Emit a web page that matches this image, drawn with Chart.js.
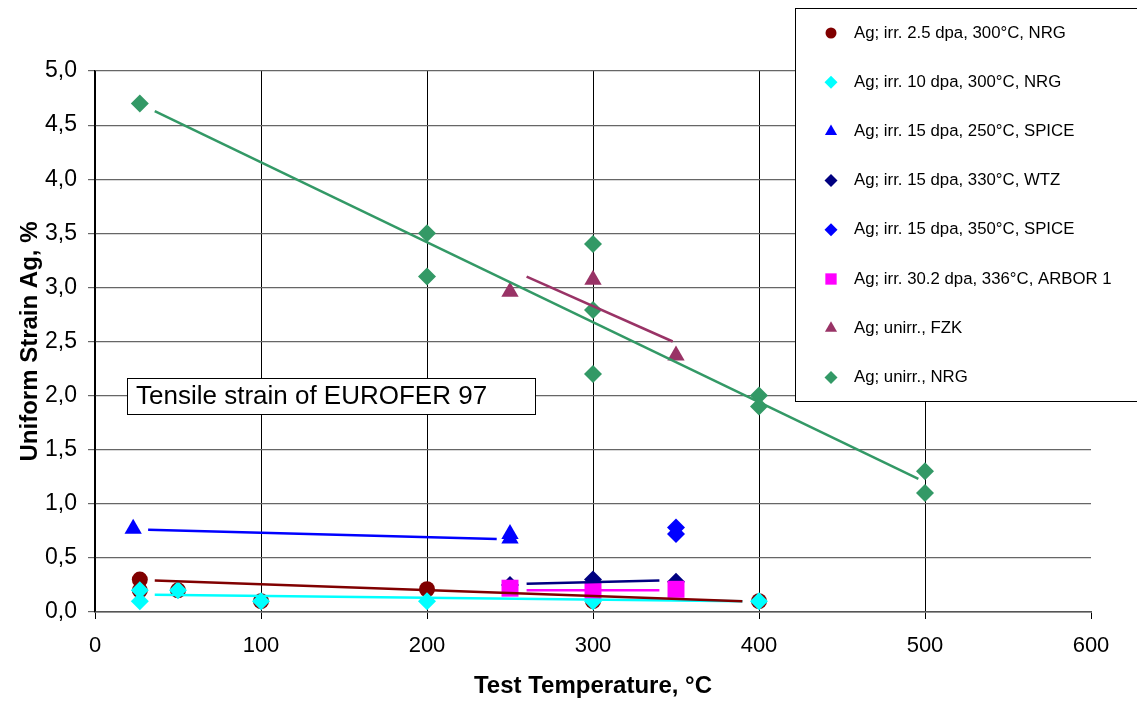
<!DOCTYPE html>
<html>
<head>
<meta charset="utf-8">
<script src="https://cdn.jsdelivr.net/npm/chart.js@4"></script>
<style>
  body { margin: 0; background: #fff; }
  #wrap { width: 1137px; height: 702px; }
</style>
</head>
<body>
<div id="wrap"><canvas id="chart" width="1137" height="702"></canvas></div>
<script>
// tick labels
const xTicks = [0, 100, 200, 300, 400, 500, 600];
const yTicks = [0, 0.5, 1, 1.5, 2, 2.5, 3, 3.5, 4, 4.5, 5];

const seriesNames = [
    'Ag; irr. 2.5 dpa, 300°C, NRG',
    'Ag; irr. 10 dpa, 300°C, NRG',
    'Ag; irr. 15 dpa, 250°C, SPICE',
    'Ag; irr. 15 dpa, 330°C, WTZ',
    'Ag; irr. 15 dpa, 350°C, SPICE',
    'Ag; irr. 30.2 dpa, 336°C, ARBOR 1',
    'Ag; unirr., FZK',
    'Ag; unirr., NRG'
];
const boxText = 'Tensile strain of EUROFER 97';

// measured points (test temperature, uniform strain)
const irr25X = [27, 27, 50, 100, 200, 300, 400];
const irr25Y = [0.30, 0.20, 0.20, 0.10, 0.21, 0.10, 0.10];
const irr10X = [27, 27, 50, 100, 200, 300, 400];
const irr10Y = [0.20, 0.10, 0.20, 0.10, 0.10, 0.10, 0.10];
const spice250X = [23, 250, 250];
const spice250Y = [0.77, 0.68, 0.72];
const wtzX = [250, 300, 350];
const wtzY = [0.25, 0.30, 0.28];
const spice350X = [350, 350];
const spice350Y = [0.78, 0.72];
const arborX = [250, 300, 350];
const arborY = [0.22, 0.20, 0.21];
const fzkX = [250, 300, 350];
const fzkY = [2.96, 3.07, 2.37];
const nrgX = [27, 200, 200, 300, 300, 300, 400, 400, 500, 500];
const nrgY = [4.70, 3.50, 3.10, 3.40, 2.79, 2.20, 2.00, 1.90, 1.30, 1.10];

// trend lines, start and end
const trend25X = [36, 390],  trend25Y = [0.29, 0.10];
const trend10X = [36, 390],  trend10Y = [0.16, 0.10];
const trendSpiceX = [32, 242], trendSpiceY = [0.76, 0.675];
const trendWtzX = [260, 340], trendWtzY = [0.26, 0.29];
const trendArborX = [260, 340], trendArborY = [0.20, 0.20];
const trendFzkX = [260, 348], trendFzkY = [3.10, 2.50];
const trendNrgX = [36, 496], trendNrgY = [4.63, 1.23];

const pts = (xs, ys) => xs.map((x, i) => ({ x: x, y: ys[i] }));

const markerSeries = [
    { data: pts(irr25X, irr25Y), color: '#800000', style: 'circle', r: 8, lr: 5.5 },
    { data: pts(irr10X, irr10Y), color: '#00FFFF', style: 'rectRot', r: 9, lr: 6.5 },
    { data: pts(spice250X, spice250Y), color: '#0000FF', style: 'triangle', r: 10, lr: 7 },
    { data: pts(wtzX, wtzY), color: '#000080', style: 'rectRot', r: 9, lr: 6.5 },
    { data: pts(spice350X, spice350Y), color: '#0000FF', style: 'rectRot', r: 9, lr: 6.5 },
    { data: pts(arborX, arborY), color: '#FF00FF', style: 'rect', r: 12, lr: 8 },
    { data: pts(fzkX, fzkY), color: '#993366', style: 'triangle', r: 10, lr: 7 },
    { data: pts(nrgX, nrgY), color: '#339966', style: 'rectRot', r: 9, lr: 6.5 }
];

const trendSeries = [
    { data: pts(trend25X, trend25Y), color: '#800000' },
    { data: pts(trend10X, trend10Y), color: '#00FFFF' },
    { data: pts(trendSpiceX, trendSpiceY), color: '#0000FF' },
    { data: pts(trendWtzX, trendWtzY), color: '#000080' },
    { data: pts(trendArborX, trendArborY), color: '#FF00FF' },
    { data: pts(trendFzkX, trendFzkY), color: '#993366' },
    { data: pts(trendNrgX, trendNrgY), color: '#339966' }
];

const datasets = [];
markerSeries.forEach((s, i) => {
    datasets.push({
        label: seriesNames[i],
        data: s.data,
        showLine: false,
        pointStyle: s.style,
        pointRadius: s.r,
        pointHoverRadius: s.r,
        pointBackgroundColor: s.color,
        pointBorderColor: s.color,
        pointBorderWidth: 0,
        legendRadius: s.lr,
        order: 10 - i
    });
});
trendSeries.forEach(t => {
    datasets.push({
        label: '',
        isTrend: true,
        data: t.data,
        showLine: true,
        borderColor: t.color,
        borderWidth: 2.5,
        pointRadius: 0,
        order: 1
    });
});

// legend box + text box drawn on top of the plot
const overlayPlugin = {
    id: 'overlay',
    afterDraw(chart) {
        const ctx = chart.ctx;
        ctx.save();

        // text box
        ctx.fillStyle = '#fff';
        ctx.strokeStyle = '#000';
        ctx.lineWidth = 1;
        ctx.fillRect(127.5, 378.5, 408, 36);
        ctx.strokeRect(127.5, 378.5, 408, 36);
        ctx.fillStyle = '#000';
        ctx.font = '26px "Liberation Sans", Arial, sans-serif';
        ctx.textBaseline = 'middle';
        ctx.fillText(boxText, 136, 397);

        // legend
        ctx.fillStyle = '#fff';
        ctx.fillRect(795.5, 8.5, 350, 393);
        ctx.strokeRect(795.5, 8.5, 350, 393);
        ctx.font = '16.8px "Liberation Sans", Arial, sans-serif';
        chart.data.datasets.forEach((ds, i) => {
            if (ds.isTrend) return;
            const y = 33 + i * 49.2;
            ctx.fillStyle = ds.pointBackgroundColor;
            ctx.strokeStyle = ds.pointBorderColor;
            Chart.helpers.drawPoint(ctx, {
                pointStyle: ds.pointStyle,
                radius: ds.legendRadius,
                rotation: 0,
                borderWidth: 0
            }, 831, y);
            ctx.fillStyle = '#000';
            ctx.fillText(ds.label, 854, y);
        });
        ctx.restore();
    }
};

new Chart(document.getElementById('chart'), {
    type: 'scatter',
    data: { datasets: datasets },
    plugins: [overlayPlugin],
    options: {
        responsive: false,
        animation: false,
        layout: { padding: { left: 0, right: 46, top: 71, bottom: 0 } },
        plugins: {
            legend: { display: false },
            tooltip: { enabled: false }
        },
        scales: {
            x: {
                type: 'linear',
                min: 0,
                max: 600,
                afterBuildTicks: scale => { scale.ticks = xTicks.map(v => ({ value: v })); },
                afterFit: scale => { scale.height = 90; },
                ticks: {
                    color: '#000',
                    padding: 14,
                    font: { family: '"Liberation Sans", Arial, sans-serif', size: 22 }
                },
                grid: {
                    color: ctx => (ctx.tick && ctx.tick.value === 600) ? 'rgba(0,0,0,0)' : '#000',
                    tickColor: '#000',
                    tickLength: 7,
                    lineWidth: 1
                },
                border: { color: '#555', width: 1.5 },
                title: {
                    display: true,
                    text: 'Test Temperature, °C',
                    color: '#000',
                    padding: { top: 0, bottom: 1 },
                    font: { family: '"Liberation Sans", Arial, sans-serif', size: 24, weight: 'bold' }
                }
            },
            y: {
                type: 'linear',
                min: 0,
                max: 5,
                afterBuildTicks: scale => { scale.ticks = yTicks.map(v => ({ value: v })); },
                afterFit: scale => { scale.width = 95; },
                ticks: {
                    color: '#000',
                    padding: 11,
                    callback: v => v.toFixed(1).replace('.', ','),
                    font: { family: '"Liberation Sans", Arial, sans-serif', size: 23 }
                },
                grid: {
                    color: '#666',
                    tickColor: '#666',
                    tickLength: 7,
                    lineWidth: 1.2
                },
                border: { color: '#000', width: 1.5 },
                title: {
                    display: true,
                    text: 'Uniform Strain Ag, %',
                    color: '#000',
                    padding: { top: 16, bottom: 0 },
                    font: { family: '"Liberation Sans", Arial, sans-serif', size: 24, weight: 'bold' }
                }
            }
        }
    }
});
</script>
</body>
</html>
